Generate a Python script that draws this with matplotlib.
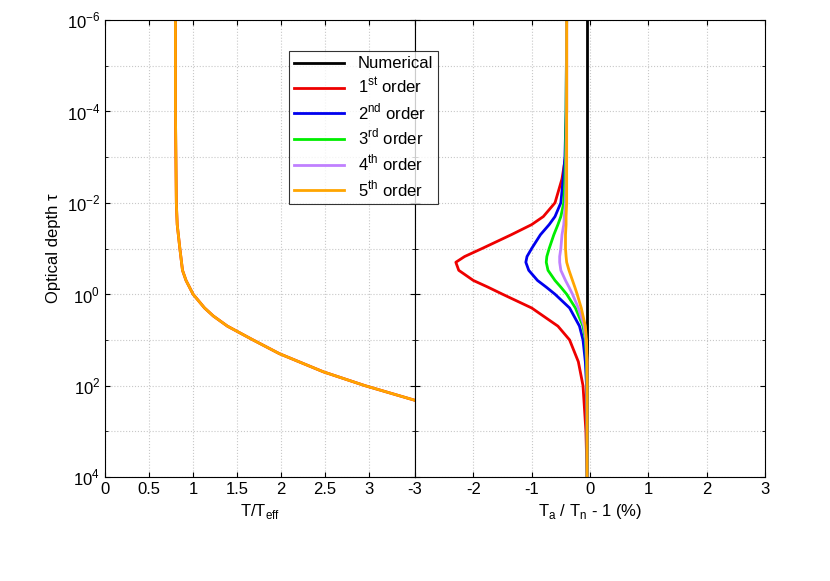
import matplotlib
matplotlib.use("Agg")
import matplotlib.pyplot as plt
from matplotlib.ticker import LogLocator, NullFormatter

plt.rcParams["font.family"] = "Liberation Sans"
plt.rcParams["mathtext.fontset"] = "custom"
plt.rcParams["mathtext.rm"] = "Liberation Sans"
plt.rcParams["axes.unicode_minus"] = False

tau_left = [1e-6, 1e-4, 1e-2, 0.03, 0.1, 0.3, 0.5, 1, 2, 3, 5, 10, 20, 50, 100, 210]
temp_left = [0.80, 0.80, 0.81, 0.82, 0.85, 0.88, 0.92, 1.00, 1.13, 1.23, 1.39, 1.68, 1.98, 2.48, 2.95, 3.52]

tau_right = [1e-6, 1e-4, 1e-3, 3e-3, 1e-2, 2e-2, 3e-2, 5e-2, 0.1, 0.15, 0.2, 0.3, 0.5, 0.7, 1, 2, 5, 10, 30, 100, 1e3, 1e4]
order1 = [-0.40, -0.40, -0.42, -0.48, -0.60, -0.80, -1.00, -1.35, -1.85, -2.15, -2.30, -2.25, -2.00, -1.75, -1.50, -1.00, -0.55, -0.35, -0.20, -0.12, -0.07, -0.05]
order2 = [-0.40, -0.41, -0.43, -0.46, -0.50, -0.60, -0.70, -0.85, -1.00, -1.08, -1.10, -1.05, -0.90, -0.75, -0.60, -0.35, -0.18, -0.12, -0.08, -0.06, -0.05, -0.05]
order3 = [-0.40, -0.41, -0.42, -0.43, -0.45, -0.50, -0.55, -0.62, -0.70, -0.74, -0.75, -0.72, -0.60, -0.50, -0.40, -0.25, -0.12, -0.08, -0.06, -0.05, -0.05, -0.05]
order4 = [-0.40, -0.40, -0.41, -0.41, -0.42, -0.44, -0.45, -0.48, -0.50, -0.52, -0.52, -0.50, -0.42, -0.36, -0.30, -0.20, -0.10, -0.07, -0.05, -0.05, -0.05, -0.05]
order5 = [-0.40, -0.40, -0.40, -0.40, -0.40, -0.41, -0.41, -0.42, -0.42, -0.41, -0.40, -0.36, -0.30, -0.26, -0.22, -0.15, -0.08, -0.06, -0.05, -0.05, -0.05, -0.05]
numerical_x = [-0.05, -0.05]
numerical_tau = [1e-6, 1e4]

colors = ["black", "#ee0000", "#0000ee", "#00ee00", "#c080ff", "#ffa500"]
labels = ["Numerical", "1$^{\\rm st}$ order", "2$^{\\rm nd}$ order", "3$^{\\rm rd}$ order",
          "4$^{\\rm th}$ order", "5$^{\\rm th}$ order"]

fig = plt.figure(figsize=(8.3, 5.81), dpi=100)
axL = fig.add_axes([105/830, 104/581, 310/830, 457/581])
axR = fig.add_axes([415/830, 104/581, 350/830, 457/581], sharey=axL)

lw = 2
axL.plot(temp_left, tau_left, color=colors[1], lw=lw)
axL.plot(temp_left, tau_left, color=colors[5], lw=lw)
axL.set_xlim(0, 3.52)
axL.set_xticks([0, 0.5, 1, 1.5, 2, 2.5, 3])
axL.set_xticklabels(["0", "0.5", "1", "1.5", "2", "2.5", "3"])
axL.set_yscale("log")
axL.set_ylim(1e4, 1e-6)
axL.set_yticks([1e-6, 1e-4, 1e-2, 1, 1e2, 1e4])
axL.set_yticklabels(["10$^{-6}$", "10$^{-4}$", "10$^{-2}$", "10$^{0}$", "10$^{2}$", "10$^{4}$"])
axL.yaxis.set_minor_locator(LogLocator(base=10, subs=[1.0], numticks=20))
axL.yaxis.set_minor_formatter(NullFormatter())
axL.set_xlabel("T/T$_{\\rm eff}$", fontsize=12)
axL.set_ylabel("Optical depth τ", fontsize=12)

handles = []
handles.append(axR.plot(numerical_x, numerical_tau, color=colors[0], lw=lw)[0])
for d, c in zip([order1, order2, order3, order4, order5], colors[1:]):
    handles.append(axR.plot(d, tau_right, color=c, lw=lw)[0])
axR.set_xlim(-3, 3)
axR.set_xticks([-3, -2, -1, 0, 1, 2, 3])
axR.set_xlabel("T$_{\\rm a}$ / T$_{\\rm n}$ - 1 (%)", fontsize=12)
axR.tick_params(axis="y", which="both", labelleft=False)

for ax in (axL, axR):
    ax.grid(True, which="both", axis="y", color="#c8c8c8", ls=":", lw=0.8)
    ax.grid(True, which="major", axis="x", color="#c8c8c8", ls=":", lw=0.8)
    ax.tick_params(labelsize=12, direction="in", which="both", top=True, right=True)
    for s in ax.spines.values():
        s.set_linewidth(0.8)

leg = fig.legend(handles, labels, loc="upper left", bbox_to_anchor=(281/830, 1 - 43/581),
                 fontsize=12, frameon=True, fancybox=False, edgecolor="black",
                 handlelength=3.0, labelspacing=0.3, borderpad=0.3)
leg.get_frame().set_linewidth(0.8)

fig.savefig("out.png", dpi=100)
